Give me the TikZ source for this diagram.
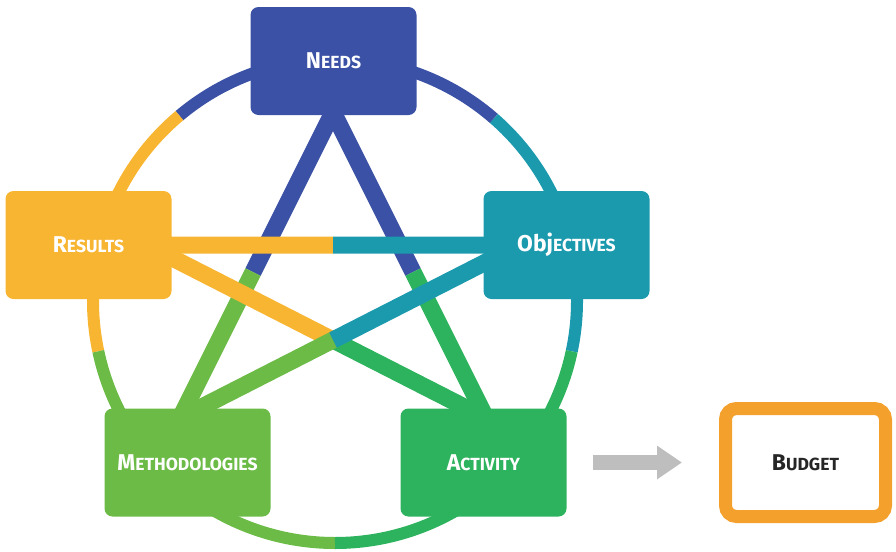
\documentclass[tikz,border=0pt]{standalone}
\usepackage{fontspec}
\setmainfont{Fira Sans}
\usetikzlibrary{calc,arrows.meta}

\definecolor{needsblue}{HTML}{3A51A5}
\definecolor{objteal}{HTML}{1B9AAE}
\definecolor{resyellow}{HTML}{F8B532}
\definecolor{methgreen}{HTML}{6BBB46}
\definecolor{actgreen}{HTML}{2DB25D}
\definecolor{budgetorange}{HTML}{F4A02C}
\definecolor{arrowgray}{HTML}{BEBEBE}

\newcommand{\smallcap}[1]{{\fontsize{10pt}{11pt}\selectfont\MakeUppercase{#1}}}

\begin{document}
\begin{tikzpicture}
[%%%%%%%%%%%%%%%%%%%%%%%%%%%%%%
box/.style={rectangle,rounded corners=0.16cm,minimum width=3.32cm,minimum height=2.16cm,
  outer sep=0pt,text=white,font=\bfseries\fontsize{13pt}{15pt}\selectfont},
ring/.style={line width=0.24cm},
spoke/.style={line width=0.34cm},
]%%%%%%%%%%%%%%%%%%%%%%%%%%%%%%
\useasboundingbox (0,0) rectangle (17.92,-11.02);

% circle
\coordinate (hub) at (6.7,-6.02);
\foreach \a/\b/\c in {-12/49/objteal,49/130/needsblue,130/192/resyellow,192/270/methgreen,270/348/actgreen}
\draw[ring,\c] (hub) ++(\a:4.84) arc (\a:\b:4.84);

% star
\coordinate (nm) at (6.86,-1.84);
\coordinate (mn) at (3.26,-9.04);
\coordinate (na) at (6.46,-1.84);
\coordinate (an) at (10.06,-9.04);
\coordinate (ro) at (2.0,-4.9);
\coordinate (or) at (11.32,-4.9);
\coordinate (ra) at (2.66,-4.76);
\coordinate (ar) at (10.66,-8.84);
\coordinate (mo) at (2.66,-8.84);
\coordinate (om) at (10.66,-4.76);
\foreach \p/\q/\cp/\cq in {nm/mn/needsblue/methgreen,na/an/needsblue/actgreen,ro/or/resyellow/objteal,ra/ar/resyellow/actgreen,mo/om/methgreen/objteal}{
\draw[spoke,\cp] (\p) -- ($(\p)!0.5!(\q)$);
\draw[spoke,\cq] ($(\p)!0.5!(\q)$) -- (\q);
}

% boxes
\node[box,fill=needsblue] (needs) at (6.67,-1.22){N\smallcap{eeds}};
\node[box,fill=objteal] (objectives) at (11.33,-4.9){Obj\smallcap{ectives}};
\node[box,fill=resyellow] (results) at (1.77,-4.9){R\smallcap{esults}};
\node[box,fill=methgreen] (methodologies) at (3.75,-9.25){M\smallcap{ethodologies}};
\node[box,fill=actgreen] (activity) at (9.67,-9.25){A\smallcap{ctivity}};
\node[rectangle,rounded corners=0.22cm,draw=budgetorange,line width=0.26cm,outer sep=0pt,
  minimum width=3.2cm,minimum height=2.16cm,text=black!85,font=\bfseries\fontsize{13pt}{15pt}\selectfont]
  (budget) at (16.11,-9.25){B\smallcap{udget}};

\draw[arrowgray,line width=0.3cm,-{Triangle[length=0.5cm,width=0.64cm]},
  shorten <=0.52cm,shorten >=0.87cm] (activity.east) -- (budget.west);
\end{tikzpicture}
\end{document}
